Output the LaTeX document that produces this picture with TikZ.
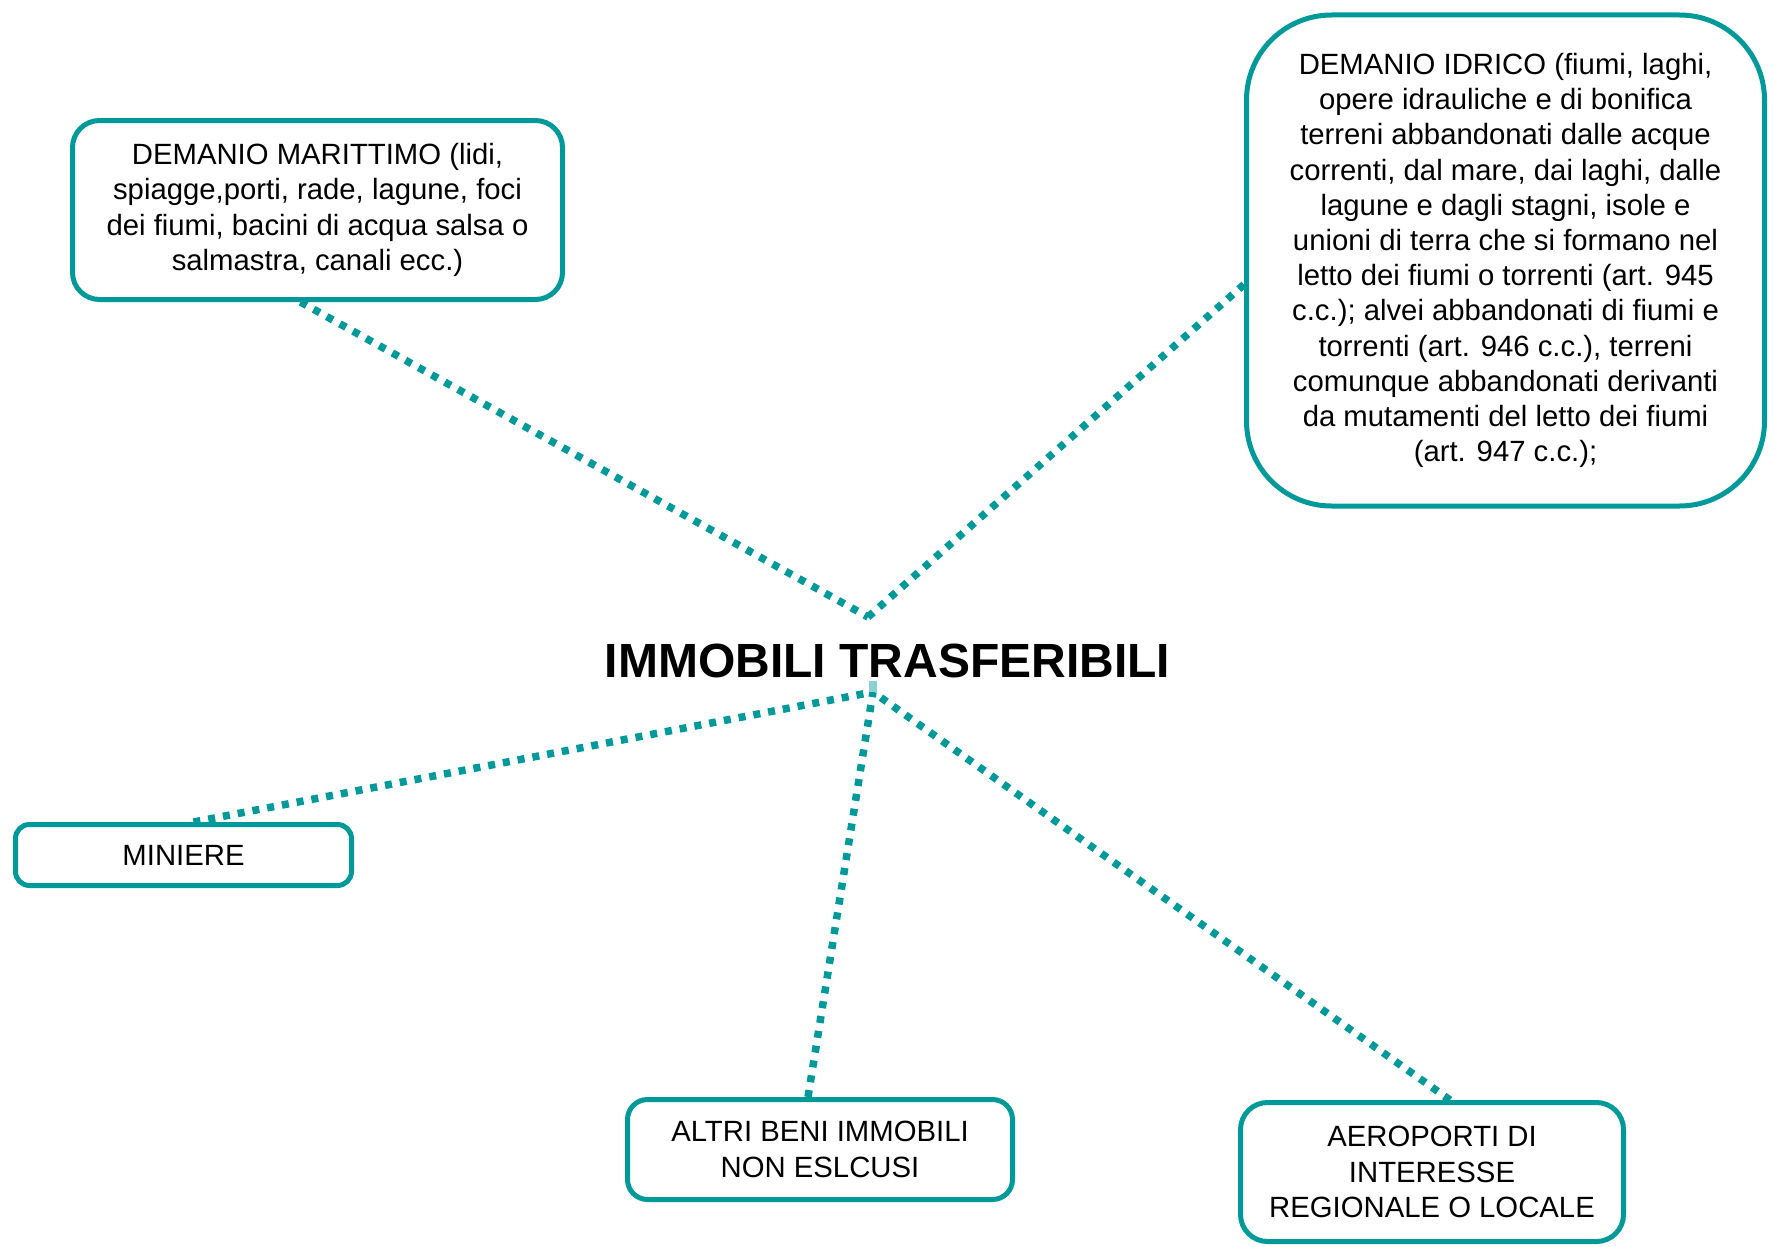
\documentclass[tikz,border=0pt]{standalone}
\usepackage{fontspec}
\setmainfont{Liberation Sans}
\usetikzlibrary{backgrounds}
\definecolor{teal1}{RGB}{0,153,153}
\tikzset{
  box/.style={draw=teal1, line width=5pt, fill=white, inner sep=0pt, align=center,
    font=\fontsize{29.3}{35.2}\selectfont, text=black},
  conn/.style={draw=teal1, line width=7.5pt, dash pattern=on 7pt off 8pt},
  title/.style={font=\fontsize{48}{55}\selectfont\bfseries, inner sep=0pt, anchor=base}
}
\begin{document}
\begin{tikzpicture}[x=1pt,y=-1pt]
\useasboundingbox (0,0) rectangle (1775,1247);
\node[box, rounded corners=27pt, minimum width=490pt, minimum height=179pt] (mar) at (317.5,210)
  {DEMANIO MARITTIMO (lidi,\\spiagge,porti, rade, lagune, foci\\dei fiumi, bacini di acqua salsa o\\salmastra, canali ecc.)};
\node[box, rounded corners=85pt, minimum width=518pt, minimum height=491pt] (idr) at (1505.5,260.5)
  {DEMANIO IDRICO (fiumi, laghi,\\opere idrauliche e di bonifica\\terreni abbandonati dalle acque\\correnti, dal mare, dai laghi, dalle\\lagune e dagli stagni, isole e\\unioni di terra che si formano nel\\letto dei fiumi o torrenti (art. 945\\c.c.); alvei abbandonati di fiumi e\\torrenti (art. 946 c.c.), terreni\\comunque abbandonati derivanti\\da mutamenti del letto dei fiumi\\(art. 947 c.c.);};
\node[box, rounded corners=14pt, minimum width=336pt, minimum height=61pt] (min) at (183.5,855) {MINIERE};
\node[box, rounded corners=20pt, minimum width=385pt, minimum height=100pt] (alt) at (820,1149.5)
  {ALTRI BENI IMMOBILI\\NON ESLCUSI};
\node[box, rounded corners=27pt, minimum width=383pt, minimum height=139pt] (aer) at (1432,1172)
  {AEROPORTI DI\\INTERESSE\\REGIONALE O LOCALE};
\node[title] (tit) at (887.5,677.5) {IMMOBILI TRASFERIBILI};
\coordinate (top) at (868,617);
\coordinate (bot) at (873,692);
\begin{scope}[on background layer]
\draw[conn] ([xshift=-17pt]mar.south) -- (top);
\draw[conn] ([yshift=-24pt]idr.west) -- (top);
\draw[conn] ([xshift=10pt]min.north) -- (bot);
\draw[conn] ([xshift=-12pt]alt.north) -- (bot);
\draw[conn] ([xshift=18pt]aer.north) -- (bot);
\end{scope}
\fill[teal1!45] (869,681) rectangle (877,692);
\end{tikzpicture}
\end{document}
